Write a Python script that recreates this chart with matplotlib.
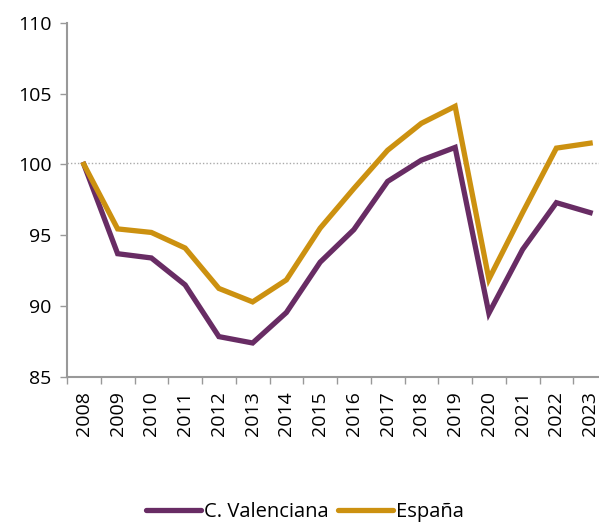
import matplotlib
matplotlib.use("Agg")
import matplotlib.pyplot as plt
from matplotlib.lines import Line2D

years = [str(y) for y in range(2008, 2024)]
valenciana = [100.0, 93.7, 93.4, 91.5, 87.85, 87.4, 89.55, 93.1, 95.4, 98.8, 100.3, 101.2, 89.5, 94.0, 97.3, 96.6]
espana = [100.0, 95.45, 95.2, 94.1, 91.25, 90.3, 91.85, 95.5, 98.3, 101.0, 102.9, 104.1, 91.9, 96.6, 101.15, 101.5]
ref_level = 100.1

c_val = "#682C64"
c_esp = "#CC9110"
spine_c = "#999999"

plt.rcParams['font.family'] = ['Open Sans', 'DejaVu Sans']

fig = plt.figure(figsize=(5.99, 5.23), dpi=100)
ax = fig.add_axes([67/599, (523-377)/523, (607-67)/599, (377-22.7)/523])

x = list(range(len(years)))
ax.axhline(ref_level, color="#aaaaaa", lw=1.0, ls=(0, (1, 1.5)), zorder=1)
ax.plot(x, valenciana, color=c_val, lw=3.8, solid_joinstyle='miter', zorder=3)
ax.plot(x, espana, color=c_esp, lw=3.8, solid_joinstyle='miter', zorder=3)

ax.set_xlim(-0.5, len(years) - 0.5)
ax.set_ylim(85, 110)
ax.set_yticks([85, 90, 95, 100, 105, 110])
ax.tick_params(axis='y', direction='out', length=5, width=1, color=spine_c, labelsize=14, pad=6)

ax.set_xticks([i - 0.5 for i in range(len(years) + 1)])
ax.set_xticklabels([])
ax.tick_params(axis='x', which='major', direction='out', length=5, width=1, color=spine_c)
ax.set_xticks(x, minor=True)
ax.set_xticklabels(years, minor=True, rotation=90, fontsize=14)
ax.tick_params(axis='x', which='minor', length=0, pad=10)

for s in ['top', 'right']:
    ax.spines[s].set_visible(False)
for s in ['left', 'bottom']:
    ax.spines[s].set_color(spine_c)
    ax.spines[s].set_linewidth(1.5)

handles = [Line2D([0], [0], color=c_val, lw=3.8, solid_capstyle='round'),
           Line2D([0], [0], color=c_esp, lw=3.8, solid_capstyle='round')]
fig.legend(handles, ['C. Valenciana', 'España'], loc='center', bbox_to_anchor=(305/599, 1 - 512/523),
           ncol=2, frameon=False, fontsize=14.5, handlelength=2.7, handletextpad=0.15, columnspacing=0.5)

fig.savefig("out.png", dpi=100)
